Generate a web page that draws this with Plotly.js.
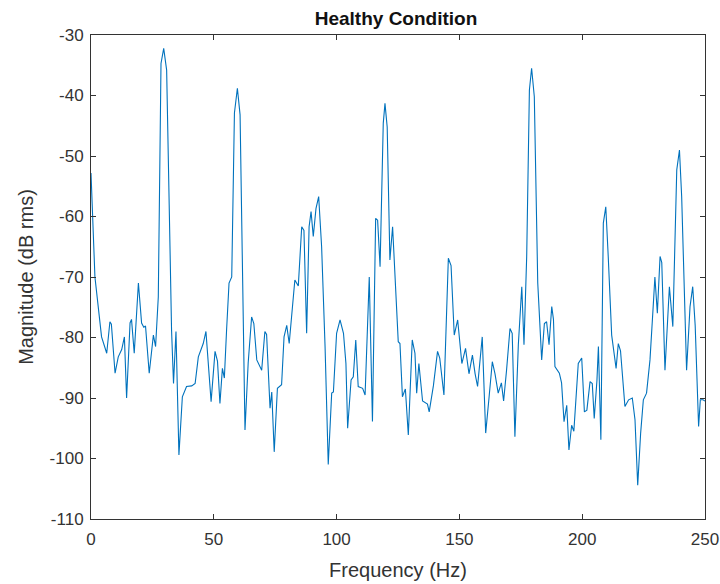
<!DOCTYPE html>
<html>
<head>
<meta charset="utf-8">
<script src="https://cdn.plot.ly/plotly-3.0.1.min.js"></script>
<style>html,body{margin:0;padding:0;background:#fff;}#chart{width:720px;height:584px;}</style>
</head>
<body>
<div id="chart"></div>
<script>
var freqHz = [0,0.3,1.6,4.3,6.4,7.7,8.3,9.8,11.1,12.5,13.6,14.5,15.9,16.5,17.6,19.3,20.6,21.5,22.2,23.7,25.4,26.3,27.4,28.5,29.6,30.8,32.8,33.6,34.6,35.8,37.2,38.9,41,42.4,43.7,45.7,46.8,48.9,50.5,51.5,52.5,53.5,54.3,55.2,56.2,57.3,58.4,59.6,60.7,62.7,64,65.4,66.3,67.5,69.5,70.8,71.5,72.9,73.6,74.6,75.9,77.6,78.6,79.7,80.7,83,84.4,85.8,86.7,87.8,88.8,89.6,90.5,91.6,92.7,93.9,95.3,96.6,98,98.7,100,101.4,102.8,103.8,104.5,105.9,106.8,107.8,108.8,110.6,111.6,113.3,114.6,115.9,116.7,117.7,119,119.7,120.6,121.7,122.8,125.1,125.8,126.8,128,129.2,130.8,131.9,132.6,133.5,135,137,137.7,139.4,141.1,142,143.7,145.5,146.6,147.9,149.3,151,152.5,153.9,155.3,156.4,157.4,159.3,160.7,162.1,163.4,164.5,165.8,167.1,168,169.2,170.6,171.5,172.6,174,175.4,176.3,177.4,178.5,179.4,180.5,181.9,183.5,184.6,185.5,186.5,187.6,188.3,188.9,190.7,191.6,192.6,193.7,194.6,195.7,196.6,198.4,199.8,200.9,201.9,203.2,204.1,204.9,206,206.6,207.6,208.6,209.6,210.6,212,213.8,214.7,215.6,217.4,218.9,220.4,221.5,222.6,223.8,224.9,226.2,227.6,228.9,229.6,230.6,231.7,232.4,233.7,235.5,236.9,238.5,239.6,240.5,242.5,243.9,245,246,247.4,248.1,249.2,250];
var magDb = [-52.8,-56.7,-70,-79.9,-82.6,-77.4,-77.8,-85.9,-83.2,-82,-79.9,-90,-77.6,-77,-82.6,-71,-77.6,-78.3,-78.1,-85.9,-79.6,-81.5,-73.3,-34.7,-32.2,-35.8,-78.8,-87.6,-79,-99.4,-89.8,-88.1,-88,-87.6,-83.2,-81,-79,-90.6,-82.3,-83.9,-90.9,-85.1,-86.7,-78.8,-71,-70,-42.9,-38.8,-43.2,-95.3,-84.2,-76.6,-77.7,-83.7,-85.4,-79,-79.5,-91.7,-89,-98.9,-88.4,-87.8,-79.9,-78,-81,-70.5,-71.5,-61.7,-62.3,-79.3,-61.7,-59.2,-63.3,-58.7,-56.7,-65,-81.5,-101,-89.2,-89,-79.3,-77.1,-79.3,-84.3,-95,-87,-86.5,-80.4,-88.1,-88.4,-89.5,-70,-93.9,-60.3,-60.6,-68.3,-44.6,-41.3,-45.2,-67.2,-61.7,-80.7,-81,-89.8,-88.5,-96.1,-80.4,-82.6,-89.2,-84.3,-90.5,-91,-92.3,-88,-82.3,-83.4,-89.5,-66.9,-68.1,-79.6,-77.1,-84.3,-81.8,-86,-82.9,-86,-88.1,-79.9,-95.8,-89.8,-84,-86,-89.2,-87.5,-90.5,-85.4,-78.5,-79.3,-96.4,-81.2,-71.6,-81.2,-66.6,-39.1,-35.5,-40.2,-71,-83.7,-77.7,-77.4,-81.2,-74.9,-77,-84.8,-85.9,-87.5,-93.9,-91.2,-98.6,-94.5,-95.5,-84.3,-83.4,-92.3,-92,-87.3,-87.6,-93.4,-87.1,-81.5,-96.9,-61.1,-58.4,-66.6,-79.6,-85.1,-81,-82.2,-91.4,-90.3,-90,-93.6,-104.4,-95.8,-90.3,-89.2,-83.7,-74.9,-70,-76,-66.6,-67.6,-85.4,-71.6,-78.2,-52.3,-49,-56.7,-85.4,-74.9,-71.6,-78,-94.7,-90.3,-90.3,-90.5];
var xTickVals = [0,50,100,150,200,250];
var yTickVals = [-110,-100,-90,-80,-70,-60,-50,-40,-30];

var axisColor = '#333333';
var trace = {
  x: freqHz, y: magDb, type: 'scatter', mode: 'lines',
  line: {color: '#0072BD', width: 1.1}, hoverinfo: 'skip'
};
var layout = {
  width: 720, height: 584,
  margin: {l: 91, r: 15, t: 35, b: 65},
  paper_bgcolor: '#ffffff', plot_bgcolor: '#ffffff',
  font: {family: 'Liberation Sans, Arial, sans-serif', color: axisColor, size: 16},
  title: {text: '<b>Healthy Condition</b>', x: 0.55, xanchor: 'center', y: 0.969, yanchor: 'middle',
          font: {size: 19, color: '#111111'}},
  showlegend: false,
  xaxis: {
    range: [0, 250], tickvals: xTickVals, ticktext: xTickVals.map(String),
    ticks: 'inside', ticklen: 5, tickcolor: axisColor, mirror: 'ticks',
    showline: true, linecolor: axisColor, linewidth: 1, showgrid: false, zeroline: false,
    tickfont: {size: 17, color: axisColor}, ticklabelstandoff: 5,
    title: {text: 'Frequency (Hz)', font: {size: 20, color: axisColor}, standoff: 14}
  },
  yaxis: {
    range: [-110, -30], tickvals: yTickVals, ticktext: yTickVals.map(String),
    ticks: 'inside', ticklen: 5, tickcolor: axisColor, mirror: 'ticks',
    showline: true, linecolor: axisColor, linewidth: 1, showgrid: false, zeroline: false,
    tickfont: {size: 17, color: axisColor}, ticklabelstandoff: 3,
    title: {text: 'Magnitude (dB rms)', font: {size: 20, color: axisColor}, standoff: 10}
  }
};
Plotly.newPlot('chart', [trace], layout, {displayModeBar: false, staticPlot: true});
</script>
</body>
</html>
